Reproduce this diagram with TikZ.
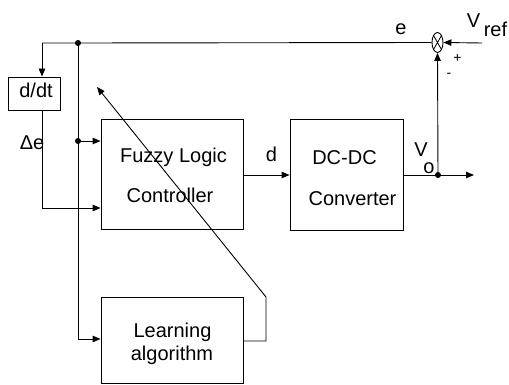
\documentclass[tikz,border=0pt]{standalone}
\usepackage{fontspec}
\setmainfont{Liberation Sans}
\usetikzlibrary{arrows.meta,shapes.geometric}
\begin{document}
\begin{tikzpicture}[x=1pt,y=-1pt,
  line width=0.9pt,
  box/.style={draw,line width=0.9pt,rectangle,inner sep=0pt},
  txt/.style={font=\fontsize{20}{24}\selectfont,anchor=base,inner sep=0pt},
  stxt/.style={font=\fontsize{14}{16}\selectfont,inner sep=0pt},
  arr/.style={-{Triangle[length=8pt,width=6.5pt]}},
  dotp/.style={circle,fill=black,inner sep=0pt,minimum width=5pt,minimum height=6pt}]
\useasboundingbox (0,0) rectangle (509,385);
% blocks
\node[box,minimum width=52pt,minimum height=33pt] (ddt) at (34,93.5) {};
\node[txt] (ddtl) at (36,98) {d/dt};
\node[box,minimum width=142pt,minimum height=110pt] (flc) at (172,174) {};
\node[txt] (flc1) at (173.5,163) {Fuzzy Logic};
\node[txt] (flc2) at (170,203) {Controller};
\node[box,minimum width=113pt,minimum height=111pt] (dc) at (346.5,174.5) {};
\node[txt] (dc1) at (344.5,165) {DC-DC};
\node[txt] (dc2) at (352.5,205) {Converter};
\node[box,minimum width=142pt,minimum height=86pt] (learn) at (172,340) {};
\node[txt] (l1) at (172.5,337) {Learning};
\node[txt] (l2) at (172,360) {algorithm};
% summing junction
\node[draw,ellipse,minimum width=11pt,minimum height=20pt,inner sep=0pt,line width=0.9pt] (sum) at (437.5,42.5) {};
\draw[line width=0.8pt] (sum.north east) -- (sum.south west) (sum.north west) -- (sum.south east);
% coordinates
\coordinate (tapL) at (42,43);
\node[dotp] (d1) at (78,43) {};
\node[dotp] (d2) at (78,141) {};
\node[dotp] (d3) at (438,175) {};
\coordinate (vin) at (482,43);
\coordinate (vout) at (474,175);
\coordinate (c1) at (42,208);
\coordinate (c2) at (78,339);
\coordinate (lr1) at (266,341);
\coordinate (lr2) at (266,297);
\coordinate (tip) at (97,87);
% connectors
\draw[arr] (vin) -- (sum.east);
\draw (sum.west) -- (d1.center) -- (tapL);
\draw[arr] (tapL) -- (tapL |- ddt.north);
\draw[arr] (c1 |- ddt.south) -- (c1) -- (c1 -| flc.west);
\draw (d1.center) -- (d2.center);
\draw[arr] (d2.center) -- (d2 -| flc.west);
\draw[arr] (d2.center) -- (c2) -- (c2 -| learn.west);
\draw[arr] (flc.east |- 0,175) -- (dc.west |- 0,175);
\draw[arr] (dc.east |- 0,175) -- (vout);
\draw[arr] (d3.center) -- (sum.south);
\draw[arr] (learn.east |- lr1) -- (lr1) -- (lr2) -- (tip);
% labels
\node[txt] (de) at (32,150) {Δe};
\node[txt] (el) at (401,35) {e};
\node[txt] (dl) at (271.5,162) {d};
\node[txt] (vl) at (473.5,28) {V};
\node[txt] (refl) at (495.5,37) {ref};
\node[txt] (vo) at (421,157) {V};
\node[txt] (vos) at (429,174) {o};
\node[stxt] (plus) at (457.5,58) {+};
\node[stxt] (minus) at (449,75) {-};
\end{tikzpicture}
\end{document}
